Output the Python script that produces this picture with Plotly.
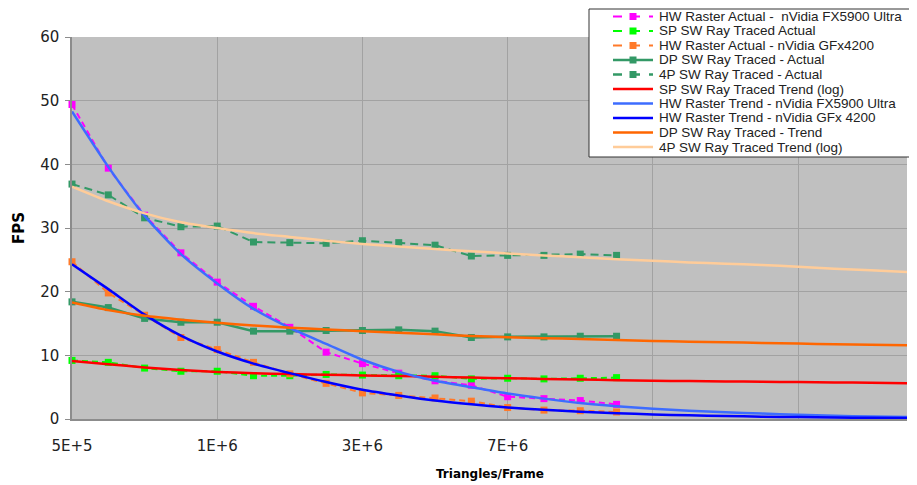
import plotly.graph_objects as go

# ---------------- data ----------------
x_data = list(range(16))          # category positions of measured points
x_trend = list(range(24))         # category positions covered by trend lines
tick_positions = [0, 4, 8, 12, 16, 20]
tick_labels = ["5E+5", "1E+6", "3E+6", "7E+6", "", ""]
y_ticks = [0, 10, 20, 30, 40, 50, 60]

hw_fx_actual = [49.4, 39.4, 32.0, 26.1, 21.5, 17.7, 14.4, 10.5, 8.7, 7.2, 6.0, 5.3, 3.5, 3.2, 2.9, 2.3]
sp_actual = [9.2, 8.9, 8.0, 7.5, 7.5, 6.8, 6.8, 7.0, 6.9, 6.8, 6.8, 6.3, 6.4, 6.3, 6.4, 6.5]
hw_gfx_actual = [24.7, 19.8, 16.3, 12.8, 10.9, 8.9, 7.1, 5.6, 4.1, 3.7, 3.3, 2.8, 1.8, 1.4, 1.3, 1.1]
dp_actual = [18.4, 17.5, 15.8, 15.2, 15.2, 13.8, 13.8, 13.9, 13.9, 14.0, 13.8, 12.8, 12.9, 12.9, 13.0, 13.0]
fourp_actual = [36.9, 35.2, 31.6, 30.2, 30.3, 27.8, 27.7, 27.6, 28.0, 27.7, 27.3, 25.6, 25.7, 25.7, 25.9, 25.7]

sp_trend = [9.1, 8.6, 8.1, 7.7, 7.4, 7.2, 7.05, 6.95, 6.85, 6.75, 6.65, 6.5, 6.4, 6.3, 6.2, 6.1,
            6.0, 5.95, 5.9, 5.85, 5.8, 5.75, 5.7, 5.6]
hw_fx_trend = [48.3, 39.6, 31.9, 25.9, 21.3, 17.3, 14.3, 11.8, 9.3, 7.4, 6.0, 5.0, 4.0, 3.2, 2.5, 2.0,
               1.6, 1.3, 1.05, 0.85, 0.65, 0.5, 0.4, 0.3]
hw_gfx_trend = [24.3, 20.4, 16.4, 13.1, 10.6, 8.7, 7.2, 5.8, 4.6, 3.7, 2.9, 2.3, 1.8, 1.45, 1.15, 0.9,
                0.72, 0.58, 0.47, 0.37, 0.3, 0.24, 0.19, 0.15]
dp_trend = [18.3, 17.1, 16.2, 15.6, 15.1, 14.7, 14.35, 14.05, 13.8, 13.55, 13.3, 13.05, 12.85, 12.7, 12.55, 12.4,
            12.25, 12.15, 12.05, 11.95, 11.85, 11.75, 11.68, 11.6]
fourp_trend = [36.5, 34.2, 32.3, 30.9, 30.0, 29.2, 28.6, 28.0, 27.5, 27.1, 26.7, 26.35, 26.0, 25.7, 25.4, 25.1,
               24.85, 24.6, 24.4, 24.2, 23.9, 23.6, 23.35, 23.1]

names = [
    "HW Raster Actual -  nVidia FX5900 Ultra",
    "SP SW Ray Traced Actual",
    "HW Raster Actual - nVidia GFx4200",
    "DP SW Ray Traced - Actual",
    "4P SW Ray Traced - Actual",
    "SP SW Ray Traced Trend (log)",
    "HW Raster Trend - nVidia FX5900 Ultra",
    "HW Raster Trend - nVidia GFx 4200",
    "DP SW Ray Traced - Trend",
    "4P SW Ray Traced Trend (log)",
]
colors = ["#FF00FF", "#00FF00", "#FF7A2A", "#339966", "#339966",
          "#FF0000", "#3D6CFF", "#0000FF", "#FF6600", "#FFCC99"]
dashes = ["6px,4px", "6px,4px", "6px,4px", "solid", "8px,5px",
          "solid", "solid", "solid", "solid", "solid"]
has_marker = [True, True, True, True, True, False, False, False, False, False]

actual_series = [hw_fx_actual, sp_actual, hw_gfx_actual, dp_actual, fourp_actual]
trend_series = [sp_trend, hw_fx_trend, hw_gfx_trend, dp_trend, fourp_trend]

# ---------------- geometry (page has an 8px body margin) ----------------
OFF = 8
W, H = 917 - OFF, 485 - OFF
PLOT_L, PLOT_R, PLOT_T, PLOT_B = 72, 907, 37, 419     # in page pixels
ML, MT = PLOT_L - OFF, PLOT_T - OFF
MR, MB = W - (PLOT_R - OFF), H - (PLOT_B - OFF)
PW, PH = W - ML - MR, H - MT - MB

def px(xp):
    return (xp - PLOT_L) / PW

def py(yp):
    return (PLOT_B - yp) / PH

fig = go.Figure()

for i, ys in enumerate(actual_series):
    fig.add_trace(go.Scatter(
        x=x_data, y=ys, name=names[i], mode="lines+markers",
        line=dict(color=colors[i], width=2.5 if i == 3 else 2, dash=dashes[i]),
        marker=dict(symbol="square", size=7, color=colors[i]),
        cliponaxis=False, showlegend=False))

for j, ys in enumerate(trend_series):
    i = 5 + j
    fig.add_trace(go.Scatter(
        x=x_trend, y=ys, name=names[i], mode="lines",
        line=dict(color=colors[i], width=2.5, shape="spline", smoothing=0.6),
        showlegend=False))

tick_font = dict(family="DejaVu Sans", size=15, color="#222222")
fig.update_layout(
    width=W, height=H,
    margin=dict(l=ML, r=MR, t=MT, b=MB, pad=0),
    paper_bgcolor="white", plot_bgcolor="#C0C0C0",
    showlegend=False,
    xaxis=dict(range=[0, 23], tickmode="array", tickvals=tick_positions, ticktext=tick_labels,
               showgrid=True, gridcolor="#A2A2A2", gridwidth=1, zeroline=False,
               showline=True, linecolor="#8C8C8C", linewidth=1.5,
               ticks="", tickfont=tick_font, ticklabelstandoff=12),
    yaxis=dict(range=[0, 60], tickmode="array", tickvals=y_ticks,
               showgrid=True, gridcolor="#A2A2A2", gridwidth=1, zeroline=False,
               showline=True, linecolor="#8C8C8C", linewidth=1.5,
               ticks="outside", ticklen=5, tickcolor="#8C8C8C",
               tickfont=tick_font, ticklabelstandoff=3),
)

# axis titles
fig.add_annotation(text="<b>Triangles/Frame</b>", xref="paper", yref="paper",
                   x=0.5, y=py(474), yanchor="middle", xanchor="center",
                   showarrow=False, font=dict(family="DejaVu Sans", size=12, color="black"))
fig.add_annotation(text="<b>FPS</b>", xref="paper", yref="paper",
                   x=px(19), y=0.5, xanchor="center", yanchor="middle", textangle=-90,
                   showarrow=False, font=dict(family="DejaVu Sans", size=15, color="black"))

# ---------------- manual legend ----------------
shapes = [dict(type="rect", xref="paper", yref="paper",
               x0=px(589), x1=px(930), y0=py(157), y1=py(9),
               fillcolor="white", line=dict(color="#333333", width=1), layer="above")]
row0, dy = 16.5, 14.5
for k, name in enumerate(names):
    yc = row0 + dy * k
    dash = "dash" if dashes[k] != "solid" else "solid"
    shapes.append(dict(type="line", xref="paper", yref="paper",
                       x0=px(613), x1=px(653), y0=py(yc), y1=py(yc),
                       line=dict(color=colors[k], width=2.5 if k >= 3 else 2, dash=dash),
                       layer="above"))
    if has_marker[k]:
        shapes.append(dict(type="rect", xref="paper", yref="paper",
                           x0=px(629.5), x1=px(636.5), y0=py(yc + 3.5), y1=py(yc - 3.5),
                           fillcolor=colors[k], line=dict(width=0), layer="above"))
    fig.add_annotation(text=name.replace("  ", "&nbsp; "), xref="paper", yref="paper",
                       x=px(657), y=py(yc), xanchor="left", yanchor="middle",
                       showarrow=False,
                       font=dict(family="Liberation Sans", size=13.5, color="#222222"))
fig.update_layout(shapes=shapes)

fig.write_html("out.html")
